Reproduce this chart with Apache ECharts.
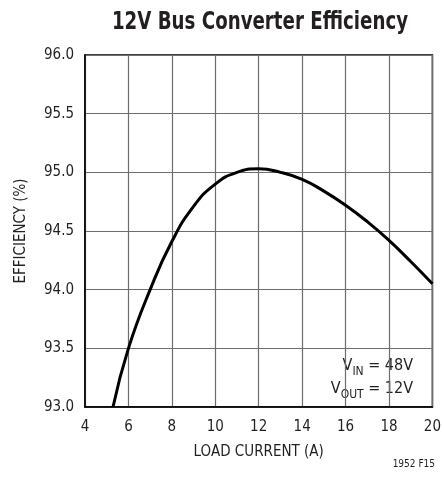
<!DOCTYPE html>
<html>
<head>
<meta charset="utf-8">
<script src="https://cdn.jsdelivr.net/npm/echarts@6/dist/echarts.min.js"></script>
<style>
  html, body { margin: 0; padding: 0; background: #fff; }
  #chart { width: 444px; height: 481px; }
</style>
</head>
<body>
<div id="chart"></div>
<script>
// Efficiency of the 12V bus converter versus load current
const loadCurrent = [5.29, 6, 7, 8, 9, 10, 11, 12, 13, 14, 15, 16, 17, 18, 19, 20];
const efficiency  = [93.0, 93.5, 94.0, 94.41, 94.71, 94.9, 95.0, 95.03, 95.0, 94.94, 94.84, 94.72, 94.58, 94.42, 94.24, 94.05];
const xTicks = [4, 6, 8, 10, 12, 14, 16, 18, 20];
const yTicks = [93.0, 93.5, 94.0, 94.5, 95.0, 95.5, 96.0];

const FONT = "'Liberation Sans Narrow', 'DejaVu Sans Condensed', 'Liberation Sans', sans-serif";

const chart = echarts.init(document.getElementById('chart'), null, { renderer: 'canvas' });

chart.setOption({
  animation: false,
  backgroundColor: '#fff',
  grid: {
    left: 85, right: 7, top: 55, bottom: 74,
    show: true, borderColor: '#000', borderWidth: 1.5, backgroundColor: 'transparent'
  },
  xAxis: {
    type: 'value',
    min: xTicks[0], max: xTicks[xTicks.length - 1], interval: 2,
    name: 'LOAD CURRENT (A)',
    nameLocation: 'middle',
    nameGap: 38,
    nameTextStyle: { fontFamily: FONT, fontSize: 15, color: '#231f20' },
    axisLine: { show: true, lineStyle: { color: '#000', width: 1.5 } },
    axisTick: { show: false },
    axisLabel: { fontFamily: FONT, fontSize: 15, color: '#231f20', margin: 13 },
    splitLine: { show: true, lineStyle: { color: '#6d6d6d', width: 1.2 } }
  },
  yAxis: {
    type: 'value',
    min: yTicks[0], max: yTicks[yTicks.length - 1], interval: 0.5,
    name: 'EFFICIENCY (%)',
    nameLocation: 'middle',
    nameGap: 56,
    nameTextStyle: { fontFamily: FONT, fontSize: 15, color: '#231f20' },
    axisLine: { show: true, lineStyle: { color: '#000', width: 1.5 } },
    axisTick: { show: false },
    axisLabel: {
      fontFamily: FONT, fontSize: 15, color: '#231f20', margin: 11,
      formatter: v => v.toFixed(1)
    },
    splitLine: { show: true, lineStyle: { color: '#6d6d6d', width: 1.2 } }
  },
  series: [{
    type: 'line',
    data: loadCurrent.map((x, i) => [x, efficiency[i]]),
    smooth: 0.5,
    showSymbol: false,
    lineStyle: { color: '#000', width: 3 },
    clip: true
  }],
  graphic: [
    {
      // condensed bold heading
      type: 'text',
      x: 260, y: 22,
      scaleX: 0.81,
      style: {
        text: '12V Bus Converter Efficiency',
        textAlign: 'center', textVerticalAlign: 'middle',
        fontFamily: FONT, fontWeight: 'bold', fontSize: 25, fill: '#231f20'
      }
    },
    {
      type: 'text',
      right: 31, top: 358,
      style: {
        text: '{n|V}{s|IN}{n| = 48V}\n{n|V}{s|OUT}{n| = 12V}',
        textAlign: 'right',
        fill: '#231f20',
        rich: {
          n: { fontFamily: FONT, fontSize: 16, lineHeight: 23, verticalAlign: 'middle', fill: '#231f20' },
          s: { fontFamily: FONT, fontSize: 12, lineHeight: 23, verticalAlign: 'bottom', padding: [6, 0, 0, 0], fill: '#231f20' }
        }
      }
    },
    {
      type: 'text',
      right: 9, top: 459,
      style: { text: '1952 F15', fontFamily: FONT, fontSize: 10, fill: '#231f20' }
    }
  ]
});
</script>
</body>
</html>
